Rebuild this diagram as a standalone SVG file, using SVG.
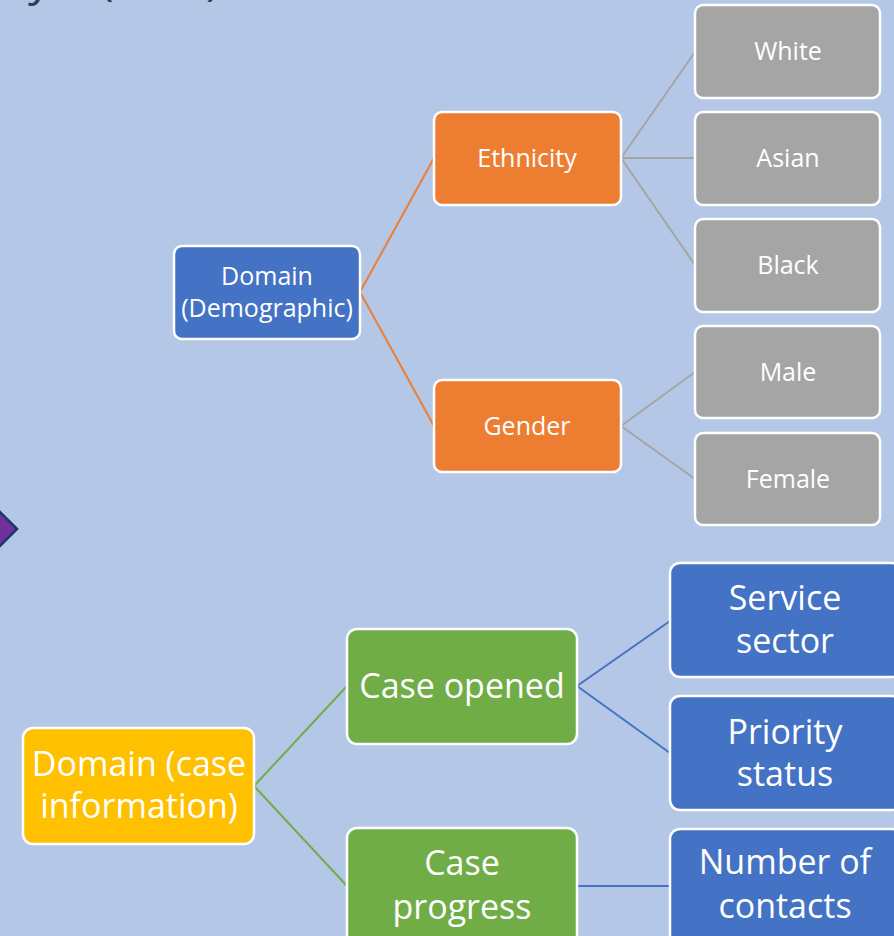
<svg xmlns="http://www.w3.org/2000/svg" width="894" height="936" viewBox="0 0 894 936">
<style>
.n rect{stroke:#fff;stroke-width:2.5}
.t{font-family:"Open Sans","Liberation Sans",sans-serif;fill:#fff;text-anchor:middle;dominant-baseline:central}
.s{font-size:25px}
.b{font-size:34px}
.c line{stroke-width:2}
.ttl{font-family:"Open Sans",sans-serif;font-size:46px;fill:#323F4F}
</style>
<rect x="0" y="0" width="894" height="936" fill="#B4C7E7"/>
<g id="title">
<text class="ttl" x="28" y="-5">y</text>
<text class="ttl" x="100" y="-5">(</text>
<text class="ttl" x="206" y="-5">)</text>
</g>
<polygon id="diamond" points="17,529 -2,510 -21,529 -2,548" fill="#7030A0" stroke="#1F3864" stroke-width="2.5"/>
<g id="connectors" class="c">
<line x1="360" y1="292" x2="434" y2="158" stroke="#ED7D31"/>
<line x1="360" y1="292" x2="434" y2="426" stroke="#ED7D31"/>
<line x1="621" y1="158" x2="695" y2="52" stroke="#A5A5A5"/>
<line x1="621" y1="158" x2="695" y2="158" stroke="#A5A5A5"/>
<line x1="621" y1="158" x2="695" y2="265" stroke="#A5A5A5"/>
<line x1="621" y1="426" x2="695" y2="372" stroke="#A5A5A5"/>
<line x1="621" y1="426" x2="695" y2="479" stroke="#A5A5A5"/>
<line x1="254" y1="786" x2="347" y2="686" stroke="#70AD47"/>
<line x1="254" y1="786" x2="347" y2="886" stroke="#70AD47"/>
<line x1="577" y1="686" x2="670" y2="621" stroke="#4472C4"/>
<line x1="577" y1="686" x2="670" y2="753" stroke="#4472C4"/>
<line x1="577" y1="886" x2="670" y2="886" stroke="#4472C4"/>
</g>
<g id="domain-demographic" class="n"><rect x="174" y="246" width="186" height="93" rx="8" fill="#4472C4"/><text class="t s" x="267" y="275">Domain</text><text class="t s" x="267" y="307">(Demographic)</text></g>
<g id="ethnicity" class="n"><rect x="434" y="112" width="187" height="93" rx="8" fill="#ED7D31"/><text class="t s" x="527" y="157">Ethnicity</text></g>
<g id="gender" class="n"><rect x="434" y="380" width="187" height="92" rx="8" fill="#ED7D31"/><text class="t s" x="527" y="425">Gender</text></g>
<g id="white" class="n"><rect x="695" y="5" width="185" height="93" rx="8" fill="#A5A5A5"/><text class="t s" x="788" y="50">White</text></g>
<g id="asian" class="n"><rect x="695" y="112" width="185" height="93" rx="8" fill="#A5A5A5"/><text class="t s" x="788" y="157">Asian</text></g>
<g id="black" class="n"><rect x="695" y="219" width="185" height="93" rx="8" fill="#A5A5A5"/><text class="t s" x="788" y="264">Black</text></g>
<g id="male" class="n"><rect x="695" y="326" width="185" height="92" rx="8" fill="#A5A5A5"/><text class="t s" x="788" y="371">Male</text></g>
<g id="female" class="n"><rect x="695" y="433" width="185" height="92" rx="8" fill="#A5A5A5"/><text class="t s" x="788" y="478">Female</text></g>
<g id="domain-case" class="n"><rect x="23" y="728" width="231" height="116" rx="10" fill="#FFC000"/><text class="t b" x="139" y="763">Domain (case</text><text class="t b" x="139" y="805">information)</text></g>
<g id="case-opened" class="n"><rect x="347" y="629" width="230" height="115" rx="10" fill="#70AD47"/><text class="t b" x="462" y="685">Case opened</text></g>
<g id="case-progress" class="n"><rect x="347" y="828" width="230" height="130" rx="10" fill="#70AD47"/><text class="t b" x="462" y="862">Case</text><text class="t b" x="462" y="906">progress</text></g>
<g id="service-sector" class="n"><rect x="670" y="563" width="232" height="114" rx="10" fill="#4472C4"/><text class="t b" x="785" y="597">Service</text><text class="t b" x="785" y="640">sector</text></g>
<g id="priority-status" class="n"><rect x="670" y="696" width="232" height="114" rx="10" fill="#4472C4"/><text class="t b" x="785" y="731">Priority</text><text class="t b" x="785" y="773">status</text></g>
<g id="number-contacts" class="n"><rect x="670" y="829" width="232" height="130" rx="10" fill="#4472C4"/><text class="t b" x="785" y="861">Number of</text><text class="t b" x="785" y="905">contacts</text></g>
</svg>
